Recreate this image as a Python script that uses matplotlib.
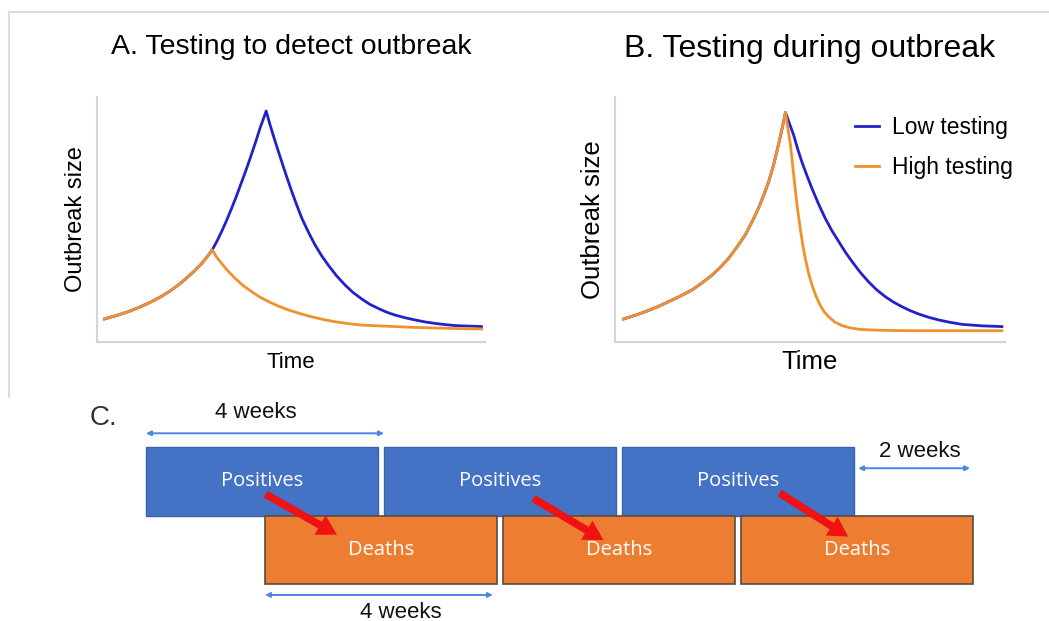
import matplotlib
matplotlib.use("Agg")
import matplotlib.pyplot as plt
from matplotlib.lines import Line2D
from matplotlib.patches import Rectangle, FancyArrowPatch

plt.rcParams["font.family"] = ["Liberation Sans", "DejaVu Sans"]

# ---- panel A: testing to detect outbreak ----
a_rise_t = [1.9, 5.0, 8.1, 11.1, 14.1, 16.7, 19.2, 21.4, 23.5, 25.3, 27.0, 28.4, 29.7]
a_rise_y = [9.4, 10.8, 12.4, 14.3, 16.5, 18.7, 21.2, 23.8, 26.7, 29.3, 32.1, 34.8, 37.6]

a_low_t = a_rise_t + [30.9, 32.1, 33.4, 34.7, 36.0, 37.3, 38.6, 39.9, 41.0, 42.0, 42.8, 43.6,
                      44.5, 45.4, 46.5, 47.6, 48.9, 50.2, 51.5, 52.8, 54.5, 56.2, 57.9, 59.6,
                      61.7, 63.9, 66.0, 68.2, 70.3, 72.5, 74.6, 76.8, 79.4, 82.0, 84.5, 87.1,
                      89.7, 92.3, 95.7, 99.1]
a_low_y = a_rise_y + [41.1, 45.0, 49.6, 54.6, 59.8, 65.4, 71.0, 77.0, 82.2, 87.2, 90.7, 94.3,
                      89.2, 84.5, 79.0, 73.6, 67.4, 61.4, 55.8, 50.5, 44.8, 39.6, 35.2, 31.4,
                      27.1, 23.3, 20.2, 17.6, 15.4, 13.7, 12.2, 11.0, 9.9, 9.0, 8.2, 7.6,
                      7.1, 6.7, 6.5, 6.3]
a_high_t = a_rise_t + [30.8, 32.1, 33.8, 35.6, 37.7, 39.9, 42.0, 44.2, 46.7, 49.3, 52.3, 55.3,
                       58.3, 61.3, 64.7, 68.2, 72.5, 76.8, 81.0, 85.4, 92.0, 99.1]
a_high_y = a_rise_y + [34.7, 32.1, 28.9, 26.0, 23.0, 20.5, 18.3, 16.5, 14.7, 13.1, 11.6, 10.3,
                       9.2, 8.3, 7.5, 6.9, 6.6, 6.3, 6.0, 5.8, 5.5, 5.3]

# ---- panel B: testing during outbreak ----
b_rise_t = [2.2, 5.0, 7.8, 10.8, 13.8, 16.7, 19.7, 22.3, 24.9, 27.0, 29.1, 31.2, 33.4, 35.1,
            36.8, 38.1, 39.4, 40.5, 41.5, 42.6, 43.7]
b_rise_y = [9.4, 10.8, 12.4, 14.3, 16.5, 18.7, 21.2, 24.1, 27.3, 30.5, 34.1, 38.6, 43.7, 48.9,
            54.6, 59.8, 65.4, 71.3, 77.7, 85.3, 93.7]

b_low_t = b_rise_t + [44.7, 45.8, 46.8, 47.9, 49.2, 50.5, 52.2, 53.9, 55.6, 57.4, 59.1, 60.8,
                      62.9, 65.0, 67.1, 69.3, 71.4, 73.6, 75.7, 77.9, 80.4, 83.0, 86.0, 89.0,
                      94.0, 99.2]
b_low_y = b_rise_y + [89.3, 84.5, 79.0, 73.6, 68.0, 62.7, 56.3, 50.5, 45.5, 40.9, 36.6, 32.8,
                      28.4, 24.6, 21.3, 18.5, 16.3, 14.4, 12.8, 11.4, 10.1, 9.0, 8.0, 7.2,
                      6.6, 6.3]
b_high_t = b_rise_t + [44.3, 45.0, 45.6, 46.2, 46.8, 47.5, 48.1, 48.8, 49.6, 50.5, 51.5, 52.6,
                       53.6, 54.8, 56.3, 58.2, 60.2, 62.5, 65.0, 67.6, 71.0, 76.2, 99.2]
b_high_y = b_rise_y + [87.5, 80.4, 71.3, 62.7, 54.2, 46.4, 40.0, 34.1, 28.3, 23.3, 18.8, 15.1,
                       12.4, 10.3, 8.2, 6.7, 5.8, 5.2, 4.95, 4.8, 4.7, 4.6, 4.6]

series_labels = ["Low testing", "High testing"]

# ---- panel C: timeline in weeks ----
pos_start = [0, 4, 8]
death_start = [2, 6, 10]
block_weeks = 4
pos_label = "Positives"
death_label = "Deaths"
red_from = [(1.97, 1.33), (6.47, 1.27), (10.61, 1.35)]
red_to = [(3.25, 0.70), (7.73, 0.62), (11.84, 0.67)]
spans = [(0, 4, 2.20), (11.97, 13.85, 1.69), (2, 5.83, -0.16)]
span_text = [("4 weeks", 1.85, 2.51), ("2 weeks", 13.0, 1.93), ("4 weeks", 4.29, -0.41)]

BLUE = "#2222c8"
ORANGE = "#f0912e"
GRID = "#d4d4d4"

W, H = 1049, 621
fig = plt.figure(figsize=(W / 100, H / 100), dpi=100)

# light frame around the top half
fig.add_artist(Line2D([9 / W, 1], [1 - 12 / H, 1 - 12 / H], color="#dcdcdc", lw=1.5))
fig.add_artist(Line2D([9 / W, 9 / W], [1 - 12 / H, 1 - 397 / H], color="#dcdcdc", lw=1.5))


def curve_axes(left_px, width_px):
    ax = fig.add_axes([left_px / W, 1 - 342 / H, width_px / W, 245 / H])
    ax.set_xlim(0, 100)
    ax.set_ylim(0, 100)
    ax.set_xticks([])
    ax.set_yticks([])
    for s in ["top", "right"]:
        ax.spines[s].set_visible(False)
    for s in ["left", "bottom"]:
        ax.spines[s].set_color(GRID)
        ax.spines[s].set_linewidth(1.5)
    return ax


axA = curve_axes(97, 388)
axA.plot(a_low_t, a_low_y, color=BLUE, lw=2)
axA.plot(a_high_t, a_high_y, color=ORANGE, lw=2)
axA.set_title("A. Testing to detect outbreak", fontsize=20.5, pad=31)
axA.set_ylabel("Outbreak size", fontsize=17, labelpad=7)
axA.set_xlabel("Time", fontsize=16, labelpad=7)

axB = curve_axes(615, 390)
axB.plot(b_low_t, b_low_y, color=BLUE, lw=2, label=series_labels[0])
axB.plot(b_high_t, b_high_y, color=ORANGE, lw=2, label=series_labels[1])
axB.set_title("B. Testing during outbreak", fontsize=23, pad=29)
axB.set_ylabel("Outbreak size", fontsize=18.5, labelpad=7)
axB.set_xlabel("Time", fontsize=18.5, labelpad=6)
axB.legend(loc="upper left", bbox_to_anchor=(0.615, 0.922), frameon=False,
           fontsize=16.5, handlelength=1.05, handletextpad=0.55, labelspacing=0.72,
           borderpad=0, borderaxespad=0)

# ---- panel C ----
axC = fig.add_axes([0, 0, 1, 241 / H])
axC.set_xlim(-146 / 59.5, (W - 146) / 59.5)
axC.set_ylim(-37 / 68.5, 204 / 68.5)
axC.axis("off")

gap = 0.1
for x0 in pos_start:
    axC.add_patch(Rectangle((x0, 1.0), block_weeks - gap, 1.0, facecolor="#4472c4",
                            edgecolor="#3a62ad", lw=1.0))
    axC.text(x0 + (block_weeks - gap) / 2, 1.5, pos_label, color="white",
             fontsize=14.5, family="Open Sans", ha="center", va="center")
for x0 in death_start:
    axC.add_patch(Rectangle((x0, 0.0), block_weeks - gap, 0.99, facecolor="#ed7d31",
                            edgecolor="#5a4c40", lw=1.2))
    axC.text(x0 + (block_weeks - gap) / 2, 0.5, death_label, color="white",
             fontsize=14.5, family="Open Sans", ha="center", va="center")

for p0, p1 in zip(red_from, red_to):
    axC.add_patch(FancyArrowPatch(p0, p1, arrowstyle="simple,head_width=16,head_length=14,tail_width=5.5",
                                  mutation_scale=1, color="#f01212", lw=0, zorder=5))

for x0, x1, y in spans:
    axC.annotate("", xy=(x1, y), xytext=(x0, y),
                 arrowprops=dict(arrowstyle="<|-|>", color="#4a86e8", lw=1.4,
                                 mutation_scale=7, shrinkA=0, shrinkB=0))
for txt, x, y in span_text:
    axC.text(x, y, txt, fontsize=16, ha="center", va="center", color="#111111")

axC.text(-0.94, 2.42, "C.", fontsize=20, ha="left", va="center", color="#333333")

fig.savefig("out.png", dpi=100, facecolor="white")
